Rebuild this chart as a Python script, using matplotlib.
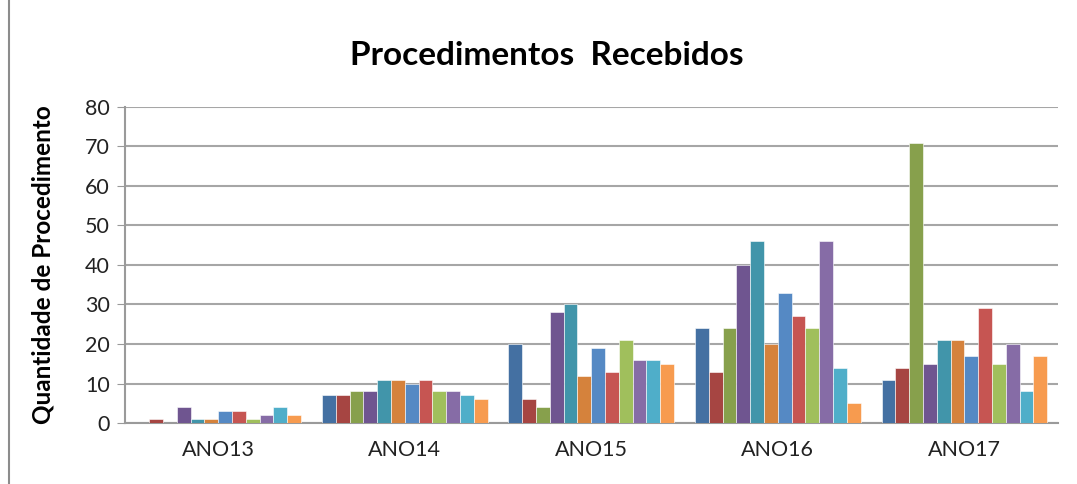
import numpy as np
import matplotlib.pyplot as plt

anos = ["ANO13", "ANO14", "ANO15", "ANO16", "ANO17"]

# 12 series per year
s01 = [0, 7, 20, 24, 11]
s02 = [1, 7, 6, 13, 14]
s03 = [0, 8, 4, 24, 71]
s04 = [4, 8, 28, 40, 15]
s05 = [1, 11, 30, 46, 21]
s06 = [1, 11, 12, 20, 21]
s07 = [3, 10, 19, 33, 17]
s08 = [3, 11, 13, 27, 29]
s09 = [1, 8, 21, 24, 15]
s10 = [2, 8, 16, 46, 20]
s11 = [4, 7, 16, 14, 8]
s12 = [2, 6, 15, 5, 17]
series = [s01, s02, s03, s04, s05, s06, s07, s08, s09, s10, s11, s12]

cores = ["#4470A2", "#A64542", "#87A04C", "#6F5590", "#4195AA", "#D5823C",
         "#5589C4", "#C65552", "#A0BF5C", "#866CA6", "#4FAEC9", "#F79B4F"]

plt.rcParams['font.family'] = ['Lato', 'DejaVu Sans']

fig = plt.figure(figsize=(10.77, 4.84), dpi=100)
ax = fig.add_axes([0.116, 0.126, 0.866, 0.653])

x = np.arange(len(anos))
n = len(series)
w = 0.074
for i, vals in enumerate(series):
    ax.bar(x + (i - (n - 1) / 2) * w, vals, w, color=cores[i],
           edgecolor="white", linewidth=0.4, zorder=3)

ax.set_xlim(-0.5, len(anos) - 0.5)
ax.set_ylim(0, 80)
ax.set_yticks(range(0, 81, 10))
ax.set_xticks(x)
ax.set_xticklabels(anos, fontsize=15.5)
ax.tick_params(axis='x', length=0, pad=12, colors="#222222")
ax.tick_params(axis='y', labelsize=15.5, length=6, pad=5, colors="#222222")
ax.tick_params(axis='y', color="#999999")
ax.yaxis.grid(True, color="#A6A6A6", linewidth=1.5, zorder=0)
for s in ["top", "right"]:
    ax.spines[s].set_visible(False)
ax.spines["left"].set_color("#9A9A9A")
ax.spines["bottom"].set_color("#9A9A9A")
ax.spines["left"].set_linewidth(1.5)
ax.spines["bottom"].set_linewidth(1.5)

ax.set_ylabel("Quantidade de Procedimento", fontsize=17.5, fontweight="bold",
              labelpad=22)
fig.text(0.508, 0.885, "Procedimentos  Recebidos", ha="center", va="center",
         fontsize=24, fontweight="bold")

# outer chart border
border = plt.Rectangle((0.008, -0.01), 1.2, 1.2, transform=fig.transFigure,
                       fill=False, edgecolor="#8C8C8C", linewidth=1.5)
fig.add_artist(border)

fig.savefig("out.png", dpi=100)
